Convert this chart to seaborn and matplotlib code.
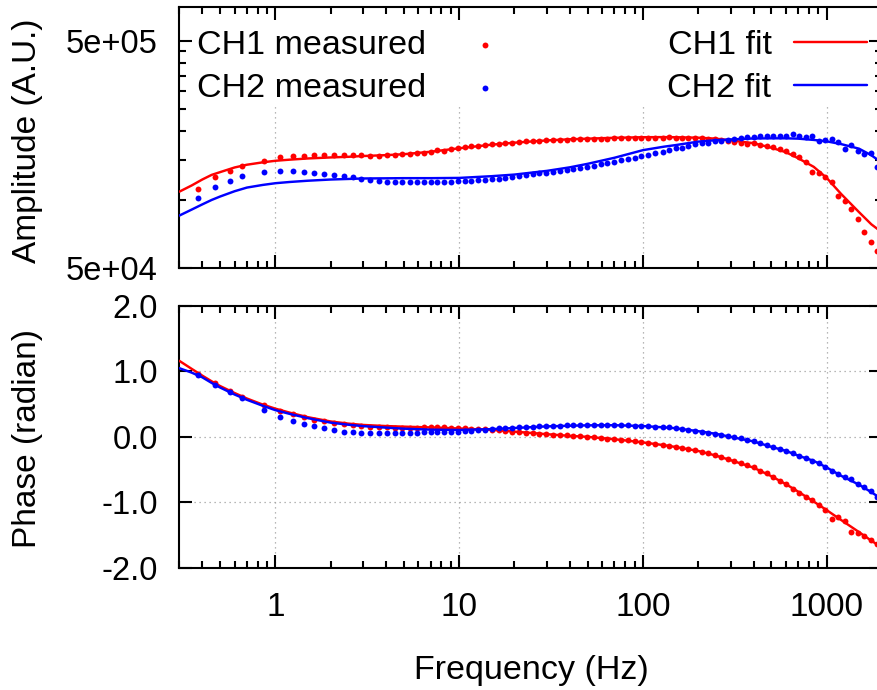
import numpy as np
import pandas as pd
import matplotlib
matplotlib.use('Agg')
import matplotlib.pyplot as plt
import seaborn as sns
from matplotlib.ticker import FixedLocator, FixedFormatter, NullFormatter, NullLocator

# measured frequencies (Hz), shared by both channels
freq = [0.379, 0.471, 0.564, 0.661, 0.871, 1.06, 1.25, 1.44, 1.63, 1.83, 2.08, 2.36, 2.64, 2.94,
        3.29, 3.67, 4.05, 4.46, 4.91, 5.39, 5.90,
        6.42, 6.99, 7.61, 8.29, 9.03, 9.83, 10.7, 11.65, 12.69, 13.82, 15.05, 16.39, 17.84, 19.43,
        21.16, 23.04, 25.09, 27.32, 29.75, 32.39, 35.27, 38.41, 41.82, 45.54, 49.59, 54.0, 58.8,
        64.03, 69.72, 75.92, 82.67, 90.02, 98.02, 106.7, 116.2,
        128, 139, 151, 164, 177, 192, 209, 226, 246, 267, 289, 314, 340, 369, 401, 435, 471, 511,
        555, 602, 653, 708, 769, 834, 905, 981, 1065, 1155, 1253, 1360, 1475, 1600, 1736, 1884]

# measured amplitude, in units of 1e5 A.U.
amp_ch1 = [1.118, 1.260, 1.339, 1.409, 1.483, 1.534, 1.550, 1.560, 1.565, 1.565, 1.572, 1.565, 1.565,
           1.572, 1.560, 1.560, 1.565, 1.572, 1.581, 1.588, 1.598,
           1.604, 1.614, 1.653, 1.642, 1.670, 1.687, 1.704, 1.715, 1.727, 1.740, 1.750, 1.763, 1.768,
           1.781, 1.793, 1.805, 1.812, 1.818, 1.823, 1.830, 1.836, 1.836, 1.842, 1.849, 1.849, 1.855,
           1.855, 1.855, 1.861, 1.861, 1.861, 1.868, 1.868, 1.868, 1.868,
           1.868, 1.880, 1.868, 1.868, 1.868, 1.861, 1.861, 1.855, 1.849, 1.836, 1.818, 1.799, 1.781,
           1.758, 1.768, 1.745, 1.715, 1.710, 1.664, 1.642, 1.588, 1.534, 1.459, 1.330, 1.317, 1.260,
           1.201, 1.038, 0.985, 0.910, 0.821, 0.720, 0.650, 0.595]
amp_ch2 = [1.017, 1.138, 1.209, 1.273, 1.326, 1.339, 1.339, 1.326, 1.308, 1.303, 1.286, 1.269, 1.260,
           1.238, 1.226, 1.213, 1.201, 1.201, 1.197, 1.193, 1.193,
           1.197, 1.193, 1.197, 1.201, 1.201, 1.205, 1.209, 1.213, 1.218, 1.222, 1.230, 1.238, 1.247,
           1.260, 1.269, 1.282, 1.295, 1.304, 1.312, 1.326, 1.335, 1.353, 1.367, 1.381, 1.395, 1.413,
           1.433, 1.453, 1.472, 1.488, 1.509, 1.529, 1.555, 1.571, 1.604,
           1.614, 1.653, 1.680, 1.687, 1.727, 1.758, 1.768, 1.781, 1.805, 1.818, 1.830, 1.849, 1.868,
           1.893, 1.893, 1.913, 1.899, 1.899, 1.906, 1.906, 1.946, 1.906, 1.880, 1.913, 1.818, 1.836,
           1.842, 1.799, 1.670, 1.740, 1.642, 1.588, 1.598, 1.395]

# measured phase (radian)
phase_ch1 = [0.959, 0.817, 0.694, 0.612, 0.485, 0.398, 0.343, 0.297, 0.260, 0.235, 0.209, 0.190, 0.174,
             0.164, 0.153, 0.148, 0.144, 0.138, 0.138, 0.138, 0.133,
             0.144, 0.148, 0.144, 0.144, 0.138, 0.133, 0.128, 0.122, 0.118, 0.113, 0.107, 0.098, 0.087,
             0.076, 0.067, 0.061, 0.052, 0.046, 0.041, 0.031, 0.026, 0.021, 0.015, 0.006, 0.000, -0.009,
             -0.020, -0.031, -0.035, -0.046, -0.055, -0.066, -0.081, -0.092, -0.107,
             -0.127, -0.138, -0.153, -0.168, -0.188, -0.208, -0.229, -0.254, -0.280, -0.306, -0.336,
             -0.367, -0.398, -0.428, -0.463, -0.520, -0.560, -0.621, -0.673, -0.723, -0.800, -0.865,
             -0.927, -0.972, -1.044, -1.116, -1.258, -1.232, -1.284, -1.453, -1.462, -1.514, -1.575,
             -1.641]
phase_ch2 = [0.943, 0.791, 0.679, 0.592, 0.408, 0.306, 0.240, 0.190, 0.159, 0.128, 0.098, 0.076, 0.072,
             0.057, 0.057, 0.057, 0.052, 0.057, 0.057, 0.057, 0.057,
             0.067, 0.067, 0.067, 0.067, 0.072, 0.076, 0.083, 0.087, 0.098, 0.107, 0.118, 0.128, 0.133,
             0.138, 0.144, 0.148, 0.153, 0.159, 0.164, 0.168, 0.168, 0.174, 0.174, 0.179, 0.179, 0.179,
             0.179, 0.179, 0.179, 0.179, 0.174, 0.168, 0.164, 0.159, 0.153,
             0.153, 0.144, 0.133, 0.118, 0.107, 0.092, 0.076, 0.061, 0.046, 0.026, 0.015, -0.005,
             -0.024, -0.050, -0.070, -0.096, -0.122, -0.153, -0.183, -0.214, -0.254, -0.291, -0.326,
             -0.367, -0.407, -0.468, -0.520, -0.570, -0.612, -0.647, -0.723, -0.765, -0.826, -0.927]

# fitted curves
fit_freq = [0.3, 0.35, 0.4, 0.45, 0.5, 0.6, 0.7, 0.85, 1, 1.2, 1.5, 2, 2.5, 3, 4, 5, 7, 10, 15, 20,
            30, 40, 50, 70, 100, 130, 150, 200, 250, 300, 400, 500, 600, 700, 850, 1000, 1200, 1500,
            1750, 2000]
fit_amp_ch1 = [1.085, 1.155, 1.227, 1.286, 1.322, 1.386, 1.425, 1.459, 1.483, 1.500, 1.518, 1.534,
               1.544, 1.556, 1.570, 1.585, 1.625, 1.683, 1.745, 1.781, 1.822, 1.843, 1.855, 1.871,
               1.882, 1.884, 1.882, 1.873, 1.855, 1.822, 1.772, 1.692, 1.617, 1.521, 1.395, 1.247,
               1.059, 0.882, 0.780, 0.719]
fit_amp_ch2 = [0.852, 0.905, 0.954, 0.998, 1.033, 1.090, 1.131, 1.161, 1.182, 1.197, 1.212, 1.227,
               1.234, 1.240, 1.242, 1.244, 1.244, 1.247, 1.269, 1.290, 1.339, 1.388, 1.438, 1.529,
               1.651, 1.710, 1.737, 1.800, 1.826, 1.840, 1.858, 1.861, 1.861, 1.855, 1.831, 1.805,
               1.755, 1.676, 1.568, 1.453]
fit_phase_ch1 = [1.162, 1.040, 0.936, 0.849, 0.777, 0.670, 0.586, 0.495, 0.431, 0.369, 0.301, 0.235,
                 0.202, 0.182, 0.165, 0.156, 0.144, 0.128, 0.107, 0.080, 0.041, 0.015, 0.000, -0.036,
                 -0.085, -0.127, -0.154, -0.216, -0.287, -0.356, -0.471, -0.601, -0.723, -0.838,
                 -0.989, -1.120, -1.272, -1.456, -1.587, -1.694]
fit_phase_ch2 = [1.050, 0.982, 0.910, 0.824, 0.754, 0.647, 0.566, 0.477, 0.408, 0.350, 0.286, 0.217,
                 0.185, 0.164, 0.141, 0.125, 0.110, 0.105, 0.118, 0.135, 0.160, 0.170, 0.176, 0.178,
                 0.165, 0.145, 0.132, 0.087, 0.046, 0.000, -0.070, -0.153, -0.214, -0.287, -0.367,
                 -0.468, -0.596, -0.731, -0.846, -0.953]

meas1 = pd.DataFrame({'freq': freq, 'amp': np.array(amp_ch1) * 1e5, 'phase': phase_ch1})
meas2 = pd.DataFrame({'freq': freq, 'amp': np.array(amp_ch2) * 1e5, 'phase': phase_ch2})
fit1 = pd.DataFrame({'freq': fit_freq, 'amp': np.array(fit_amp_ch1) * 1e5, 'phase': fit_phase_ch1})
fit2 = pd.DataFrame({'freq': fit_freq, 'amp': np.array(fit_amp_ch2) * 1e5, 'phase': fit_phase_ch2})

sns.set_style('ticks')
plt.rcParams['font.family'] = ['Liberation Sans', 'DejaVu Sans']
plt.rcParams['axes.unicode_minus'] = False
plt.rcParams['axes.linewidth'] = 1.5
plt.rcParams['text.color'] = 'black'
plt.rcParams['axes.labelcolor'] = 'black'
plt.rcParams['axes.edgecolor'] = 'black'
plt.rcParams['xtick.color'] = 'black'
plt.rcParams['ytick.color'] = 'black'

W, H = 877, 690
fig = plt.figure(figsize=(W / 100, H / 100), dpi=100)


def px_axes(l, t, r, b):
    return fig.add_axes([l / W, 1 - b / H, (r - l) / W, (b - t) / H])


ax1 = px_axes(179.3, 7.3, 882, 268.3)
ax2 = px_axes(179.3, 306, 882, 567.7)

RED, BLUE = '#ff0000', '#0000ff'
dot = dict(s=18, linewidth=0, zorder=3)
lw = 1.75
grid_kw = dict(linestyle=(0, (1, 3)), color='#a0a0a0', linewidth=0.9)

for ax, col in ((ax1, 'amp'), (ax2, 'phase')):
    ax.set_xscale('log')
    sns.scatterplot(data=meas1, x='freq', y=col, color=RED, ax=ax, label='CH1 measured', **dot)
    sns.lineplot(data=fit1, x='freq', y=col, color=RED, lw=lw, ax=ax, label='CH1 fit',
                 estimator=None, sort=False, zorder=3)
    sns.scatterplot(data=meas2, x='freq', y=col, color=BLUE, ax=ax, label='CH2 measured', **dot)
    sns.lineplot(data=fit2, x='freq', y=col, color=BLUE, lw=lw, ax=ax, label='CH2 fit',
                 estimator=None, sort=False, zorder=3)
    ax.set_xlim(0.3, 2000)
    ax.set_xlabel('')
    ax.set_ylabel('')
    ax.xaxis.set_major_locator(FixedLocator([1, 10, 100, 1000]))
    ax.xaxis.set_minor_locator(FixedLocator([m * 10.0 ** e for e in range(-1, 4) for m in range(2, 10)
                                             if 0.3 <= m * 10.0 ** e <= 2000]))
    ax.xaxis.set_minor_formatter(NullFormatter())
    ax.tick_params(which='both', direction='in', top=True, right=True, width=1.5, colors='black')
    ax.tick_params(which='major', length=9.5)
    ax.tick_params(which='minor', length=5)
    ax.tick_params(axis='y', pad=15.5, labelsize=23.5)
    ax.set_axisbelow(True)
    if ax.legend_:
        ax.legend_.remove()

# top panel: amplitude
ax1.set_yscale('log')
ax1.set_ylim(5e4, 7e5)
ax1.yaxis.set_major_locator(FixedLocator([5e4, 5e5]))
ax1.yaxis.set_major_formatter(FixedFormatter(['5e+04', '5e+05']))
ax1.yaxis.set_minor_locator(FixedLocator([1e5, 1.5e5, 2e5, 2.5e5, 3e5, 3.5e5, 4e5, 4.5e5]))
ax1.yaxis.set_minor_formatter(NullFormatter())
ax1.tick_params(labelbottom=False)
# vertical grid stops under the key
for xv in [1, 10, 100, 1000]:
    ax1.axvline(xv, ymin=0, ymax=0.633, zorder=0.5, **grid_kw)

# bottom panel: phase
ax2.set_ylim(-2, 2)
ax2.yaxis.set_major_locator(FixedLocator([-2, -1, 0, 1, 2]))
ax2.yaxis.set_major_formatter(FixedFormatter(['-2.0', '-1.0', '0.0', '1.0', '2.0']))
ax2.yaxis.set_minor_locator(NullLocator())
ax2.xaxis.set_major_formatter(FixedFormatter(['1', '10', '100', '1000']))
ax2.tick_params(axis='x', pad=17.5, labelsize=24)
ax2.grid(which='major', **grid_kw)

# key, gnuplot style: text then sample, two columns
h, l = ax1.get_legend_handles_labels()
order = [l.index(n) for n in ['CH1 measured', 'CH2 measured', 'CH1 fit', 'CH2 fit']]
leg = ax1.legend([h[i] for i in order], [l[i] for i in order], ncol=2, loc='upper left',
                 bbox_to_anchor=(0, 0.981), borderaxespad=0, borderpad=0.52, markerfirst=False,
                 handlelength=2.15, handletextpad=0.65, columnspacing=4.29, labelspacing=0.34,
                 frameon=False, prop={'family': 'Liberation Sans', 'size': 24.5})
for t in leg.get_texts():
    t.set_color('black')

fig.text(28 / W, 1 - 141 / H, 'Amplitude (A.U.)', rotation=90, ha='center', va='center',
         fontsize=24, color='black')
fig.text(28 / W, 1 - 439 / H, 'Phase (radian)', rotation=90, ha='center', va='center',
         fontsize=24, color='black')
fig.text(531 / W, 1 - 671 / H, 'Frequency (Hz)', ha='center', va='center', fontsize=24.5,
         color='black')

fig.savefig('out.png', dpi=100)
